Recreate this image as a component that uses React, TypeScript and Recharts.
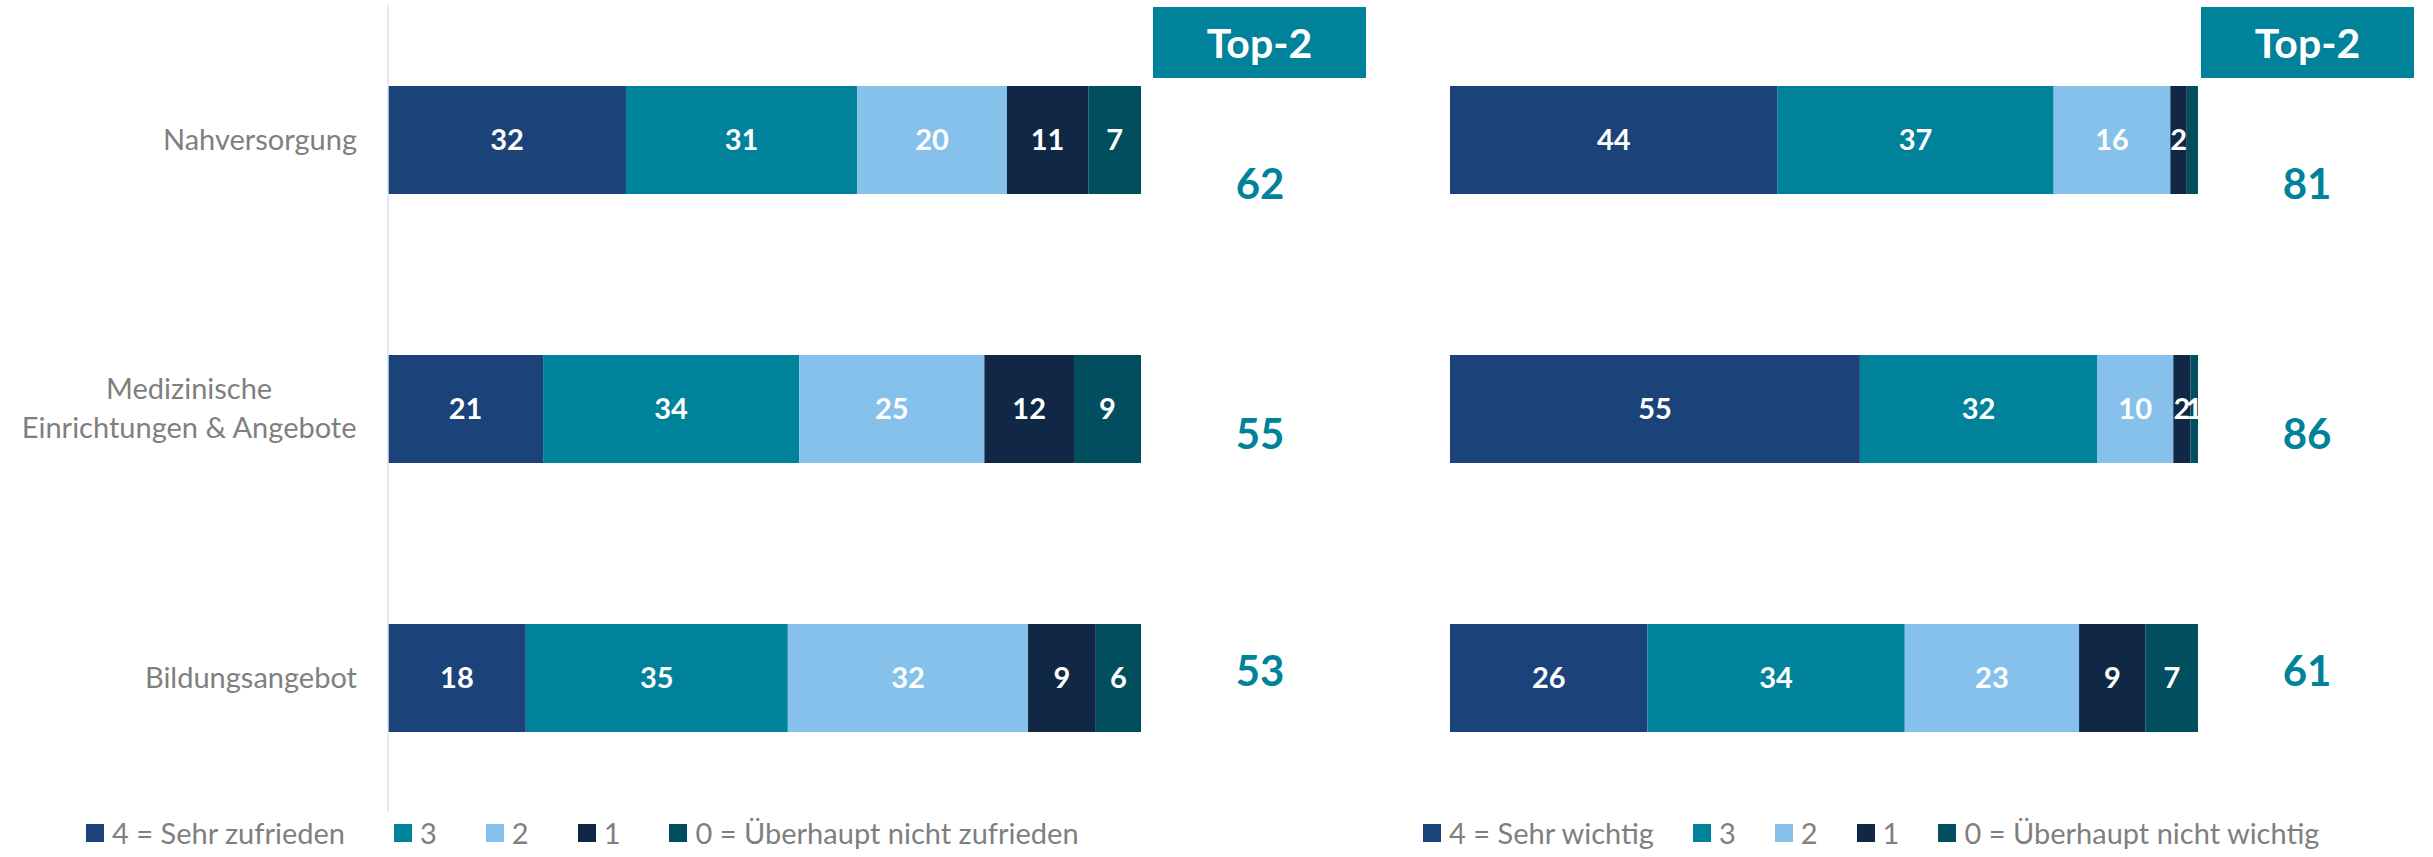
import { BarChart, Bar, XAxis, YAxis, LabelList, Legend } from 'recharts';

// categories (rows of both panels)
const categories = ['Nahversorgung', 'Medizinische\nEinrichtungen & Angebote', 'Bildungsangebot'];

const seriesKeys = ['v4', 'v3', 'v2', 'v1', 'v0'];
const seriesColors = ['#1b4279', '#00829b', '#85c1ea', '#102746', '#004e5e'];

// left panel: Zufriedenheit (%)
const zufrieden4 = [31.6, 20.6, 18.3];
const zufrieden3 = [30.7, 34.0, 34.8];
const zufrieden2 = [19.9, 24.6, 31.9];
const zufrieden1 = [10.8, 11.9, 9.0];
const zufrieden0 = [7.0, 8.9, 6.0];
const zufriedenTop2 = [62, 55, 53];
const zufriedenLegend = ['4 = Sehr zufrieden', '3', '2', '1', '0 = Überhaupt nicht zufrieden'];

// right panel: Wichtigkeit (%)
const wichtig4 = [43.8, 54.8, 26.4];
const wichtig3 = [36.9, 31.7, 34.4];
const wichtig2 = [15.6, 10.2, 23.3];
const wichtig1 = [2.2, 2.3, 8.9];
const wichtig0 = [1.5, 1.0, 7.0];
const wichtigTop2 = [81, 86, 61];
const wichtigLegend = ['4 = Sehr wichtig', '3', '2', '1', '0 = Überhaupt nicht wichtig'];
// label not printed in the original (series-row)
const wichtigHidden = ['v0-0'];

const FONT = 'Lato, "Noto Sans", sans-serif';
const GREY = '#7f7f7f';
const TEAL = '#00829b';
const TEXT_SIZE = 29;
const LABEL_RIGHT = 357;
const TOP2_SHIFT = [44, 25, -7.5];

const makeRows = (cols: number[][], top2: number[]) =>
  categories.map((name, i) => {
    const row: any = { name, top2: top2[i] };
    seriesKeys.forEach((k, j) => (row[k] = cols[j][i]));
    return row;
  });

let ctx: CanvasRenderingContext2D | null = null;
const measure = (s: string) => {
  if (!ctx) ctx = document.createElement('canvas').getContext('2d');
  if (!ctx) return s.length * TEXT_SIZE * 0.5;
  ctx.font = `${TEXT_SIZE}px Lato`;
  return ctx.measureText(s).width;
};

const CategoryTick = (props: any) => {
  const { y, payload } = props;
  const lines = String(payload.value).split('\n');
  const widest = Math.max(...lines.map(measure));
  const cx = LABEL_RIGHT - widest / 2;
  return (
    <text x={cx} y={y} textAnchor="middle" fill={GREY} fontFamily={FONT} fontSize={TEXT_SIZE}>
      {lines.map((l, i) => (
        <tspan key={i} x={cx} y={y + (i - (lines.length - 1) / 2) * 39} dy="0.35em">
          {l}
        </tspan>
      ))}
    </text>
  );
};

const legendContent = (gap: number, names: string[]) => (props: any) => {
  const items = [...(props.payload || [])].sort(
    (a: any, b: any) => names.indexOf(a.value) - names.indexOf(b.value)
  );
  return (
    <div
      style={{
        display: 'flex',
        alignItems: 'center',
        gap,
        fontFamily: FONT,
        fontSize: TEXT_SIZE,
        color: GREY,
        whiteSpace: 'nowrap',
      }}
    >
      {items.map((p: any, i: number) => (
        <div key={i} style={{ display: 'flex', alignItems: 'center' }}>
          <span style={{ width: 18, height: 18, background: p.color, marginRight: 8, display: 'inline-block' }} />
          {p.value}
        </div>
      ))}
    </div>
  );
};

interface PanelProps {
  rows: any[];
  names: string[];
  width: number;
  margin: { top: number; right: number; bottom: number; left: number };
  showAxis: boolean;
  top2X: number;
  legendLeft: number;
  legendGap: number;
  hidden: string[];
}

const Panel = ({ rows, names, width, margin, showAxis, top2X, legendLeft, legendGap, hidden }: PanelProps) => (
  <BarChart width={width} height={857} data={rows} layout="vertical" margin={margin}>
    <XAxis type="number" domain={[0, 100]} hide />
    <YAxis
      type="category"
      dataKey="name"
      hide={!showAxis}
      width={388}
      axisLine={{ stroke: '#d3e6f6', strokeWidth: 1.5 }}
      tickLine={false}
      tick={<CategoryTick />}
      interval={0}
    />
    <Legend
      verticalAlign="middle"
      align="center"
      content={legendContent(legendGap, names)}
      wrapperStyle={{ top: 815, left: legendLeft, width: 'auto' }}
    />
    {seriesKeys.map((k, j) => (
      <Bar key={k} dataKey={k} name={names[j]} stackId="a" fill={seriesColors[j]} barSize={108} isAnimationActive={false}>
        <LabelList
          dataKey={k}
          content={(p: any) => {
            if (hidden.includes(`${k}-${p.index}`)) return null;
            return (
              <text
                x={p.x + p.width / 2}
                y={p.y + p.height / 2}
                dy="0.36em"
                textAnchor="middle"
                fill="#ffffff"
                fontFamily={FONT}
                fontWeight={700}
                fontSize={29}
              >
                {Math.round(Number(p.value))}
              </text>
            );
          }}
        />
        {k === 'v0' && (
          <LabelList
            dataKey="top2"
            content={(p: any) => (
              <text
                x={top2X}
                y={p.y + p.height / 2 + TOP2_SHIFT[p.index]}
                dy="0.36em"
                textAnchor="middle"
                fill={TEAL}
                fontFamily={FONT}
                fontWeight={700}
                fontSize={42}
              >
                {p.value}
              </text>
            )}
          />
        )}
      </Bar>
    ))}
  </BarChart>
);

const Top2Box = ({ left }: { left: number }) => (
  <div
    style={{
      position: 'absolute',
      left,
      top: 7,
      width: 213,
      height: 71,
      background: TEAL,
      color: '#fff',
      fontFamily: FONT,
      fontWeight: 700,
      fontSize: 41,
      display: 'flex',
      alignItems: 'center',
      justifyContent: 'center',
    }}
  >
    Top-2
  </div>
);

export default function App() {
  const leftRows = makeRows([zufrieden4, zufrieden3, zufrieden2, zufrieden1, zufrieden0], zufriedenTop2);
  const rightRows = makeRows([wichtig4, wichtig3, wichtig2, wichtig1, wichtig0], wichtigTop2);
  return (
    <div style={{ position: 'absolute', left: 0, top: 0, width: 2433, height: 857, background: '#fff' }}>
      <div style={{ position: 'absolute', left: 0, top: 0 }}>
        <Panel
          rows={leftRows}
          names={zufriedenLegend}
          width={1400}
          margin={{ top: 5, right: 259, bottom: 45, left: 0 }}
          showAxis
          top2X={1260}
          legendLeft={86}
          legendGap={49}
          hidden={[]}
        />
      </div>
      <div style={{ position: 'absolute', left: 1400, top: 0 }}>
        <Panel
          rows={rightRows}
          names={wichtigLegend}
          width={1033}
          margin={{ top: 5, right: 235, bottom: 45, left: 50 }}
          showAxis={false}
          top2X={907}
          legendLeft={23}
          legendGap={39}
          hidden={wichtigHidden}
        />
      </div>
      <Top2Box left={1153} />
      <Top2Box left={2201} />
    </div>
  );
}
